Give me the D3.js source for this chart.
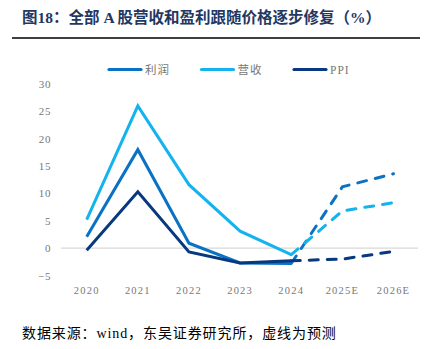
<!DOCTYPE html>
<html>
<head>
<meta charset="utf-8">
<script src="https://cdn.jsdelivr.net/npm/d3@7"></script>
<style>
  body { margin: 0; background: #fff; }
  svg { display: block; }
</style>
</head>
<body>
<svg class="chart" width="439" height="349"></svg>
<script>
// years and yoy growth (%)
const years = ['2020', '2021', '2022', '2023', '2024', '2025E', '2026E']
const profit = [2.1, 18.0, 0.9, -2.7, -2.8, 11.2, 13.6]
const revenue = [5.2, 26.0, 11.6, 3.1, -1.2, 6.8, 8.3]
const ppi = [-0.4, 10.3, -0.7, -2.7, -2.3, -2.0, -0.6]
const yTicks = [30, 25, 20, 15, 10, 5, 0, -5]
// index of the last actual value, the rest are forecasts
const lastActual = 4

const series = [
  { name: '利润', values: profit, color: '#0a72c4' },
  { name: '营收', values: revenue, color: '#12b3ee' },
  { name: 'PPI', values: ppi, color: '#08387e' }
]

const svg = d3.select('.chart')

const x = d3.scalePoint()
  .domain(years)
  .range([86.7, 393.5])

const y = d3.scaleLinear()
  .domain([-5, 30])
  .range([275.5, 84])

// title with rule underneath
svg.append('text')
  .attr('x', 22)
  .attr('y', 23)
  .attr('fill', '#1f3864')
  .attr('font-family', '"Liberation Serif", "Noto Sans CJK SC", serif')
  .attr('font-weight', 'bold')
  .attr('font-size', 15.5)
  .text('图18：全部 A 股营收和盈利跟随价格逐步修复（%）')

svg.append('line')
  .attr('x1', 12).attr('x2', 420)
  .attr('y1', 38).attr('y2', 38)
  .attr('stroke', '#000')
  .attr('stroke-width', 1.6)

// zero line
svg.append('line')
  .attr('x1', 61).attr('x2', 418)
  .attr('y1', y(0)).attr('y2', y(0))
  .attr('stroke', '#d9d9d9')
  .attr('stroke-width', 1.3)

// y axis labels
svg.append('g')
  .selectAll('text')
  .data(yTicks)
  .enter()
  .append('text')
  .attr('x', 51)
  .attr('y', d => y(d) + 4)
  .attr('text-anchor', 'end')
  .attr('fill', '#777')
  .attr('font-family', '"Liberation Serif", serif')
  .attr('font-size', 11)
  .attr('letter-spacing', 0.6)
  .text(d => d < 0 ? '−' + Math.abs(d) : d)

// x axis labels
svg.append('g')
  .selectAll('text')
  .data(years)
  .enter()
  .append('text')
  .attr('x', d => x(d))
  .attr('y', 294)
  .attr('text-anchor', 'middle')
  .attr('fill', '#777')
  .attr('font-family', '"Liberation Serif", serif')
  .attr('font-size', 10.5)
  .attr('letter-spacing', 1.2)
  .text(d => d)

const line = d3.line()
  .x(d => x(d.year))
  .y(d => y(d.value))

const lines = svg.append('g')

series.forEach(function (s) {
  const pts = s.values.map((v, i) => ({ year: years[i], value: v }))
  // actual values, solid
  lines.append('path')
    .datum(pts.slice(0, lastActual + 1))
    .attr('d', line)
    .attr('fill', 'none')
    .attr('stroke', s.color)
    .attr('stroke-width', 3)
    .attr('stroke-linejoin', 'miter')
  // forecasts, dashed
  lines.append('path')
    .datum(pts.slice(lastActual))
    .attr('d', line)
    .attr('fill', 'none')
    .attr('stroke', s.color)
    .attr('stroke-width', 3)
    .attr('stroke-linecap', 'round')
    .attr('stroke-dasharray', '9,9')
})

// legend
const legend = svg.append('g')
  .selectAll('g')
  .data(series)
  .enter()
  .append('g')
  .attr('transform', (d, i) => 'translate(' + (109 + i * 92.5) + ',69.5)')

legend.append('line')
  .attr('x1', 0).attr('x2', 32)
  .attr('stroke', d => d.color)
  .attr('stroke-width', 3.2)
  .attr('stroke-linecap', 'round')

legend.append('text')
  .attr('x', 36)
  .attr('y', 4.5)
  .attr('fill', '#777')
  .attr('font-family', '"Liberation Serif", "Noto Sans CJK SC", serif')
  .attr('font-size', 11.5)
  .attr('letter-spacing', 1)
  .text(d => d.name)

// source note
svg.append('text')
  .attr('x', 22)
  .attr('y', 338)
  .attr('fill', '#000')
  .attr('font-family', '"Liberation Serif", "Noto Sans CJK SC", serif')
  .attr('font-size', 14)
  .attr('letter-spacing', 0.9)
  .text('数据来源：wind，东吴证券研究所，虚线为预测')
</script>
</body>
</html>
